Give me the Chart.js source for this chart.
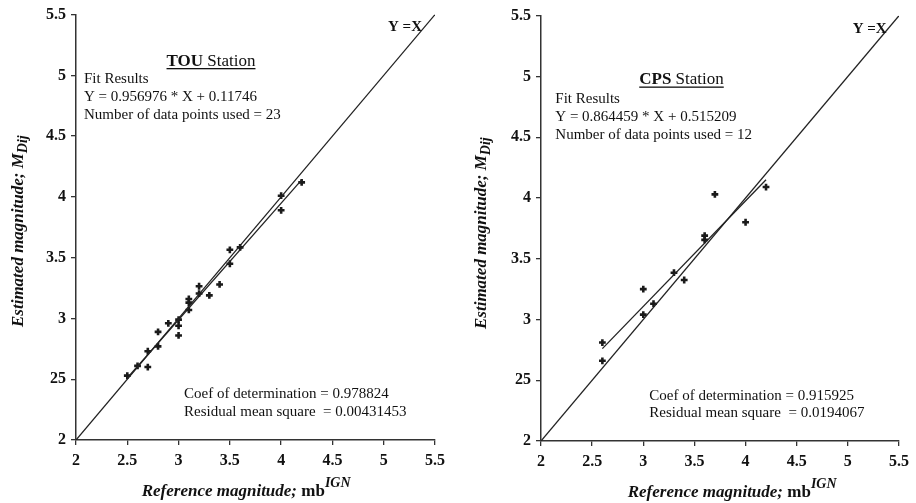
<!DOCTYPE html>
<html><head><meta charset="utf-8">
<script src="https://cdn.jsdelivr.net/npm/chart.js@4"></script>
<style>
html,body{margin:0;padding:0;background:#fff;}
#wrap{position:relative;width:916px;height:503px;overflow:hidden;background:#fff;}
canvas{position:absolute;top:0;}
</style></head><body>
<div id="wrap">
<canvas id="c1" width="458" height="503" style="left:0px"></canvas>
<canvas id="c2" width="458" height="503" style="left:458px"></canvas>
</div>
<script>
// ---- data ----
const xTickLabels = ['2','2.5','3','3.5','4','4.5','5','5.5'];
const yTickLabels = ['2','25','3','3.5','4','4.5','5','5.5'];

const touX = [2.5,2.6,2.7,2.7,2.8,2.8,2.9,3.0,3.0,3.0,3.1,3.1,3.1,3.2,3.2,3.3,3.4,3.5,3.5,3.6,4.0,4.0,4.2];
const touY = [2.53,2.61,2.73,2.60,2.89,2.77,2.96,2.99,2.94,2.86,3.16,3.13,3.07,3.265,3.205,3.19,3.28,3.565,3.45,3.585,4.01,3.89,4.12];
const touFitX = [2.5, 4.2];
const touFitY = [2.51, 4.14];

const cpsX = [2.6,2.6,3.0,3.0,3.1,3.3,3.4,3.6,3.6,3.7,4.0,4.2];
const cpsY = [2.81,2.66,3.25,3.04,3.13,3.385,3.325,3.69,3.655,4.03,3.80,4.09];
const cpsFitX = [2.6, 4.2];
const cpsFitY = [2.76, 4.15];

const identityX = [2, 5.5];
const identityY = [2, 5.5];

const touText = {
  title: ['TOU', ' Station'],
  fit: ['Fit Results', 'Y = 0.956976 * X + 0.11746', 'Number of data points used = 23'],
  stats: ['Coef of determination = 0.978824', 'Residual mean square  = 0.00431453']
};
const cpsText = {
  title: ['CPS', ' Station'],
  fit: ['Fit Results', 'Y = 0.864459 * X + 0.515209', 'Number of data points used = 12'],
  stats: ['Coef of determination = 0.915925', 'Residual mean square  = 0.0194067']
};
const identityLabel = 'Y =X';
const xTitle = ['Reference magnitude;', ' mb', 'IGN'];
const yTitle = ['Estimated magnitude; M', 'Dij'];

// ---- drawing ----
const FAM = "'Liberation Serif','Times New Roman',serif";
Chart.defaults.font.family = FAM;
const INK = '#111';

const pts = (xs, ys) => xs.map((x, i) => ({x, y: ys[i]}));

const textPlugin = {
  id: 'annot',
  afterDraw(chart, args, opts) {
    const ctx = chart.ctx;
    for (const it of opts.items) {
      ctx.save();
      ctx.translate(it.x, it.y);
      if (it.rot) ctx.rotate(it.rot);
      let w = 0;
      for (const r of it.runs) { ctx.font = r.f; w += ctx.measureText(r.s).width; }
      let x0 = it.align === 'center' ? -w / 2 : 0;
      let x = x0;
      ctx.textBaseline = 'alphabetic';
      ctx.fillStyle = INK;
      for (const r of it.runs) {
        ctx.font = r.f;
        ctx.fillText(r.s, x, r.dy || 0);
        x += ctx.measureText(r.s).width;
      }
      if (it.underline) ctx.fillRect(x0, it.underline, w, 1.3);
      ctx.restore();
    }
  }
};

function makeChart(id, g, sx, sy, fx, fy, txt) {
  const N = '15px ' + FAM;
  const items = [
    {x: g.idX, y: g.idY, runs: [{s: identityLabel, f: 'bold 15px ' + FAM}]},
    {x: g.titleX, y: g.titleY, align: 'center', underline: 2.5,
      runs: [{s: txt.title[0], f: 'bold 17px ' + FAM}, {s: txt.title[1], f: '17px ' + FAM}]},
    {x: g.fitX, y: g.fitY0, runs: [{s: txt.fit[0], f: N}]},
    {x: g.fitX, y: g.fitY0 + 17.8, runs: [{s: txt.fit[1], f: N}]},
    {x: g.fitX, y: g.fitY0 + 35.5, runs: [{s: txt.fit[2], f: N}]},
    {x: g.stX, y: g.stY0, runs: [{s: txt.stats[0], f: N}]},
    {x: g.stX, y: g.stY0 + 17.2, runs: [{s: txt.stats[1], f: N}]},
    {x: g.xtX, y: g.xtY, runs: [
      {s: xTitle[0], f: 'italic bold 17px ' + FAM},
      {s: xTitle[1], f: 'bold 17px ' + FAM},
      {s: xTitle[2], f: 'italic bold 14px ' + FAM, dy: -8.5}]},
    {x: g.ytX, y: g.ytY, rot: -Math.PI / 2, runs: [
      {s: yTitle[0], f: 'italic bold 17px ' + FAM},
      {s: yTitle[1], f: 'italic bold 14px ' + FAM, dy: 4}]}
  ];
  const axisCommon = {
    type: 'linear', min: 2, max: 5.5,
    grid: {display: true, drawOnChartArea: false, drawTicks: true, tickLength: 5, color: '#333', lineWidth: 1.3},
    border: {display: true, color: '#333', width: 1.5}
  };
  return new Chart(document.getElementById(id), {
    type: 'scatter',
    data: {
      datasets: [
        {type: 'line', data: pts(identityX, identityY), borderColor: '#222', borderWidth: 1.3,
          pointRadius: 0, fill: false, tension: 0},
        {type: 'line', data: pts(fx, fy), borderColor: '#222', borderWidth: 1.3,
          pointRadius: 0, fill: false, tension: 0},
        {data: pts(sx, sy), pointStyle: 'cross', pointRadius: 3.4, borderWidth: 2.6,
          borderColor: '#1a1a1a', backgroundColor: '#1a1a1a'}
      ]
    },
    options: {
      responsive: false, animation: false, events: [],
      layout: {padding: {left: 0, top: g.padTop, right: g.padRight, bottom: 0}},
      plugins: {legend: {display: false}, tooltip: {enabled: false}, annot: {items}},
      scales: {
        x: Object.assign({}, axisCommon, {
          ticks: {stepSize: 0.5, padding: 6, color: INK, font: {size: 16, weight: 'bold'},
            maxRotation: 0, autoSkip: false,
            callback: (v, i) => xTickLabels[i]},
          afterFit: s => { s.height = g.xH; }
        }),
        y: Object.assign({}, axisCommon, {
          ticks: {stepSize: 0.5, padding: 5, color: INK, font: {size: 16, weight: 'bold'},
            autoSkip: false,
            callback: (v, i) => yTickLabels[i]},
          afterFit: s => { s.width = g.yW; }
        })
      }
    },
    plugins: [textPlugin]
  });
}

makeChart('c1', {
  padTop: 14.5, padRight: 23, xH: 63, yW: 76,
  idX: 388, idY: 31, titleX: 211, titleY: 65.5, fitX: 84, fitY0: 83.3,
  stX: 184, stY0: 398.3, xtX: 141.7, xtY: 495.5, ytX: 23, ytY: 327
}, touX, touY, touFitX, touFitY, touText);

makeChart('c2', {
  padTop: 15.7, padRight: 17, xH: 62, yW: 83,
  idX: 852.7 - 458, idY: 33.3, titleX: 681.5 - 458, titleY: 84, fitX: 555.3 - 458, fitY0: 103.3,
  stX: 649.3 - 458, stY0: 400, xtX: 627.7 - 458, xtY: 496.5, ytX: 486 - 458, ytY: 329
}, cpsX, cpsY, cpsFitX, cpsFitY, cpsText);
</script>
</body></html>
